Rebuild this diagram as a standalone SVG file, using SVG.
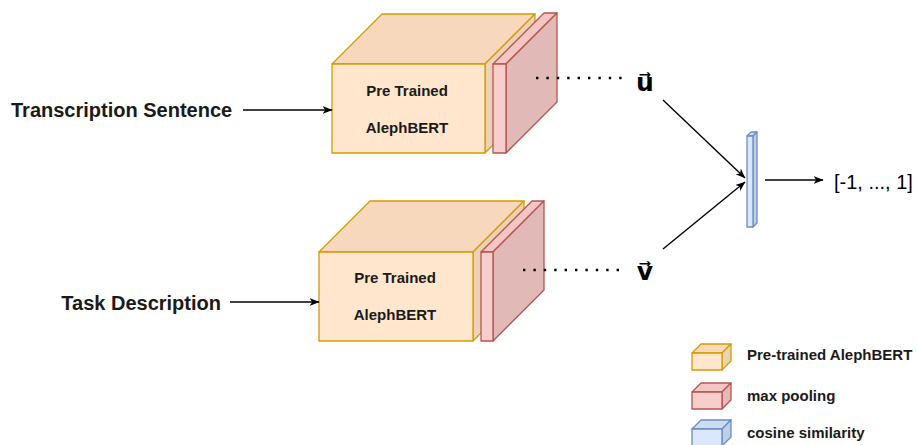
<svg xmlns="http://www.w3.org/2000/svg" width="917" height="445" viewBox="0 0 917 445">
<defs>
<style>
.lbl{font-family:"Liberation Sans",Arial,sans-serif;font-weight:bold;fill:#1a1a1a}
.nt{font-size:15px;text-anchor:middle}
.in{font-size:20px}
.lg{font-size:15px}
.vec{font-family:"DejaVu Sans","Liberation Sans",sans-serif;font-weight:bold;font-size:25px;text-anchor:middle;fill:#000}
.out{font-family:"Liberation Sans",Arial,sans-serif;font-size:20px;fill:#000}
.of{fill:#ffe6cc;stroke:#d79b00;stroke-width:1.3;stroke-linejoin:round}
.ot{fill:#f8d8bd;stroke:#d79b00;stroke-width:1.3;stroke-linejoin:round}
.os{fill:#ebd3ba;stroke:#d79b00;stroke-width:1.3;stroke-linejoin:round}
.rf{fill:#f8cecc;stroke:#b85450;stroke-width:1.3;stroke-linejoin:round}
.rt{fill:#f3c6c4;stroke:#b85450;stroke-width:1.3;stroke-linejoin:round}
.rs{fill:#e1b9b6;stroke:#b85450;stroke-width:1.3;stroke-linejoin:round}
.bf{fill:#dae8fc;stroke:#6c8ebf;stroke-width:1.3;stroke-linejoin:round}
.bt{fill:#ccdcf2;stroke:#6c8ebf;stroke-width:1.3;stroke-linejoin:round}
.bs{fill:#bfcfe7;stroke:#6c8ebf;stroke-width:1.3;stroke-linejoin:round}
.edge{fill:none;stroke:#000;stroke-width:1.4}
.dots{fill:none;stroke:#000;stroke-width:2.6;stroke-dasharray:2.4 8}
</style>
<marker id="ah" viewBox="0 0 10 8" refX="9.5" refY="4" markerWidth="10" markerHeight="8" markerUnits="userSpaceOnUse" orient="auto">
<path d="M0,0 L10,4 L0,8 L2.8,4 Z" fill="#000"/>
</marker>
</defs>
<rect width="917" height="445" fill="#fff"/>

<g id="bert-top">
<polygon class="ot" points="332,64 382,14 535,14 485,64"/>
<polygon class="os" points="485,64 535,14 535,103 485,153"/>
<rect class="of" x="332" y="64" width="153" height="89"/>
<text class="lbl nt" x="407" y="96">Pre Trained</text>
<text class="lbl nt" x="407" y="132.5">AlephBERT</text>
</g>
<g id="pool-top">
<polygon class="rt" points="493,64 544,13 557,13 506,64"/>
<polygon class="rs" points="506,64 557,13 557,102 506,153"/>
<rect class="rf" x="493" y="64" width="13" height="89"/>
</g>

<g id="bert-bottom">
<polygon class="ot" points="319,252 370,201 524,201 473,252"/>
<polygon class="os" points="473,252 524,201 524,290 473,341"/>
<rect class="of" x="319" y="252" width="154" height="89"/>
<text class="lbl nt" x="395" y="282.5">Pre Trained</text>
<text class="lbl nt" x="395" y="320">AlephBERT</text>
</g>
<g id="pool-bottom">
<polygon class="rt" points="481,252 532,201 544,201 493,252"/>
<polygon class="rs" points="493,252 544,201 544,290 493,341"/>
<rect class="rf" x="481" y="252" width="12" height="89"/>
</g>

<g id="cosine">
<polygon class="bt" points="747,136 751,132 757,132 753,136"/>
<polygon class="bs" points="753,136 757,132 757,223 753,227"/>
<rect class="bf" x="747" y="136" width="6" height="91"/>
</g>

<g id="input-top"><text class="lbl in" x="11" y="117">Transcription Sentence</text></g>
<g id="input-bottom"><text class="lbl in" x="221" y="310" text-anchor="end">Task Description</text></g>
<g id="vec-u"><text class="vec" x="645" y="91">u⃗</text></g>
<g id="vec-v"><text class="vec" x="645" y="280">v⃗</text></g>
<g id="output"><text class="out" x="834" y="189">[-1, ..., 1]</text></g>

<g id="connectors">
<line class="edge" x1="243" y1="110" x2="332" y2="110" marker-end="url(#ah)"/>
<line class="edge" x1="230" y1="302" x2="319" y2="302" marker-end="url(#ah)"/>
<line class="dots" x1="536" y1="78" x2="622" y2="78"/>
<line class="dots" x1="523" y1="270" x2="619" y2="270"/>
<line class="edge" x1="663" y1="100" x2="745" y2="178" marker-end="url(#ah)"/>
<line class="edge" x1="663" y1="249" x2="745" y2="182" marker-end="url(#ah)"/>
<line class="edge" x1="765" y1="180" x2="823" y2="180" marker-end="url(#ah)"/>
</g>

<g id="legend">
<g id="legend-bert">
<polygon class="ot" points="692,353 701,344 731,344 722,353"/>
<polygon class="os" points="722,353 731,344 731,361 722,370"/>
<rect class="of" x="692" y="353" width="30" height="17"/>
<text class="lbl lg" x="747" y="360">Pre-trained AlephBERT</text>
</g>
<g id="legend-pool">
<polygon class="rt" points="692,392 701,383 731,383 722,392"/>
<polygon class="rs" points="722,392 731,383 731,400 722,409"/>
<rect class="rf" x="692" y="392" width="30" height="17"/>
<text class="lbl lg" x="747" y="401">max pooling</text>
</g>
<g id="legend-cos">
<polygon class="bt" points="692,429 701,420 731,420 722,429"/>
<polygon class="bs" points="722,429 731,420 731,437 722,446"/>
<rect class="bf" x="692" y="429" width="30" height="17"/>
<text class="lbl lg" x="747" y="438">cosine similarity</text>
</g>
</g>
</svg>
